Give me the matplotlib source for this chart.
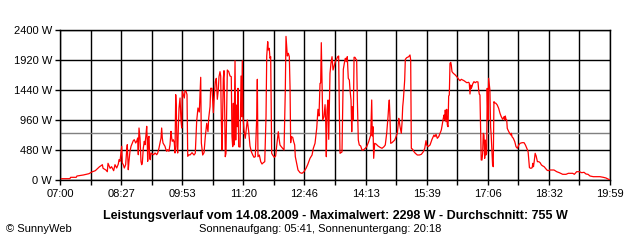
import matplotlib
matplotlib.use("Agg")
import matplotlib.pyplot as plt
from matplotlib.ticker import FixedLocator

# minutes after 07:00 and power in W
minutes = [2, 14, 15, 23, 24, 33, 41, 45, 50, 52, 56, 59, 60, 61, 65, 67, 68, 71, 73, 76,
    77.9, 80.3, 82.6, 83.6, 85, 86.4, 87.4, 88.2, 89.7, 91.1, 93, 94.5, 95.3, 96.7, 97.7, 99.1,
    100.6, 102.4, 103.8, 105.2, 107.2, 108.6, 110, 110.9, 111.9, 113.3, 114.7, 115.7, 116.6, 118,
    119.4, 120.4, 121.8, 122.8, 123.6, 124.2, 125.1, 126.1, 127, 127.9, 128.9, 130.7, 132.7, 134.6,
    137, 138.4, 140.2, 141.6, 143.1, 144, 144.9, 145.9, 147.3, 148.7, 150.1, 151.1, 152.5, 154.3,
    155.8, 157.2, 158.2, 159, 160.5, 161.9, 162.9, 163.9, 164.7, 165.7, 166.7, 167.6, 168.6, 170,
    171.4, 172.4, 173.2, 174.6, 176.1, 177, 178.5, 179.9, 180.9, 182.7,
    184.1, 187, 189.8, 191.6, 193.6, 195.4, 197.3, 199.3, 200.2, 202.1, 204, 205.8, 207.8, 209.6,
    210.6, 212.5, 213.4, 215.3, 217.2, 218.5, 220, 221.4, 222.8, 224.2, 225.2, 226.6, 227.6, 228.5,
    229.5, 230.4, 231.3, 232.3, 233.3, 234.1, 235.1, 237, 239, 240.8, 242.6, 243.6, 244.6, 245.5,
    246.4, 247.9, 248.9, 249.7, 251.1, 252.1, 253.1, 255, 256.4, 257.4, 258.2, 259.2, 260.6, 262.4,
    264.4, 265.3, 267.3, 269.1, 271, 273, 274.8, 276.6, 278.6, 279.5, 280.4, 282.3, 284.3, 286.1,
    288, 290, 291.8, 292.8, 294.2, 295, 296.4, 297.4, 298.4, 299.8, 301.2, 303.5, 305.4, 307.3,
    309.2, 310.2, 311.6, 313.4, 315.4, 317.3, 319.1, 320.1, 321.1, 322, 323.4, 324.8, 325.8, 326.7,
    327.6, 329.6, 331, 332.4, 333.3, 335.2, 337.1, 340, 342.8, 345.6, 348.5, 350.8, 354.1, 357,
    358.8, 361.2, 363.6, 365.4, 366.8, 368.3, 369.2, 370.1, 371.1, 372.1, 373.9, 375.4, 376.3, 377.2,
    378.2, 379.6, 380.6, 381.4, 382.4, 383.8, 385.3, 386.7, 388.1, 389.9, 391.9, 393.3, 394.7, 395.6,
    396.6, 399.4, 400.4, 401.3, 402.7, 404.1, 405.5, 406.9, 408.3, 409.8, 410.8, 412.2, 413.2, 414,
    415.4, 416.5, 417.8, 419.3, 420.2, 421.1, 422.5, 423.9, 425.9, 427.7, 429.6, 432.4, 434.4, 437.2,
    440.1, 441.5, 442.3, 443.3, 444.3, 445.7, 447.6, 450.4, 453.2, 456.1, 458.9, 460.7, 462.7, 464.6,
    465.5, 466.4, 467.4, 468.4, 470.2, 474.1, 476, 477.8, 479.8, 480.6, 481.6, 483.4, 484.4, 485.4,
    486.3, 488.2, 489.1, 491, 493.9, 495.7, 496.7, 497.6, 499.5, 501.4, 503.3, 506.1, 509, 511.8,
    514.6, 516.6, 518.4, 519.4, 521.2, 524.1, 526.9, 529.7, 531.1, 532.6, 534.4, 536.4, 538.2, 540.1,
    542, 542.9, 543.9, 544.9, 545.7, 546.7, 547.7, 548.6, 549.6, 550.5, 551.4, 552.4, 553.4, 554.2,
    555.2, 557.1, 559.9, 562.7, 564.7, 566.5, 568.4, 570.4, 572.2, 574.1, 576.1, 578.9, 579.7, 580.7,
    581.7, 582.5, 583.5, 584.5, 586.3, 588.2, 590.2, 592, 593, 593.8, 594.8, 595.8, 596.6, 597.7,
    598.6, 599.5, 600.5, 601.5, 602.3, 603.3, 604.3, 605.1, 606.1, 607.1, 607.9, 608.9, 609.9, 610.7,
    611.7, 612.7, 613.6, 614.6, 615.6, 617.4, 619.3, 621.3, 623.2, 625, 627, 628.9, 629.9, 630.7,
    631.7, 632.7, 633.5, 634.5, 636.4, 638.4, 639.3, 640.2, 642.1, 644.1, 645.9, 647.8, 649.8, 651.6,
    654.5, 657.3, 659.2, 661.2, 663, 664, 664.9, 666.9, 668.8, 669.7, 670.6, 671.6, 673, 674.4,
    676.2, 678.2, 680, 681.9, 683.9, 685.7, 687.6, 689.6, 691.4, 694, 699.7, 703.5, 707.2, 712,
    716.7, 720, 726.2, 728.5, 731.8, 735.5, 738.9, 742.2, 745, 747.8, 750.7, 755.4, 764.8, 769.5,
    773.3, 777.1, 779]

watts = [21, 21, 43, 43, 64, 80, 101, 128, 149, 171, 213, 235, 245, 187, 160, 133, 267, 187, 213, 149,
    245, 192, 256, 325, 299, 432, 539, 272, 245, 192, 245, 485, 565, 165, 299, 459,
    539, 592, 629, 645, 592, 619, 672, 405, 832, 672, 299, 245, 272, 512,
    619, 565, 725, 859, 619, 299, 672, 699, 352, 325, 432, 416, 405, 432,
    405, 432, 512, 592, 672, 832, 672, 592, 565, 539, 485, 459, 485, 459,
    565, 779, 672, 619, 645, 592, 432, 1365, 1152, 539, 432, 832, 1152, 1312,
    939, 832, 1419, 1365, 1312, 1429, 1419, 1365, 379, 405,
    400, 437, 400, 427, 944, 1152, 1088, 1643, 592, 400, 437, 693, 907, 773,
    987, 1173, 1467, 1467, 1077, 1333, 1573, 1627, 1291, 1440, 1653, 1733, 1664, 960,
    480, 1067, 1621, 1749, 1067, 373, 427, 1760, 1733, 1664, 1653, 693, 533, 1227,
    560, 1909, 640, 1200, 853, 1467, 533, 528, 1664, 1013, 1909, 1013, 800, 667,
    880, 960, 773, 544, 453, 400, 363, 373, 987, 1611, 373, 400, 293, 256,
    277, 293, 1013, 1984, 2213, 2080, 2107, 1947, 1973, 427, 400, 363, 384, 587,
    773, 667, 560, 533, 507, 480, 1429, 2298, 2133, 1984, 2027, 1973, 1493, 597,
    693, 683, 613, 560, 373, 267, 160, 117, 107, 133, 187, 245, 347, 400,
    507, 587, 827, 1131, 1024, 1547, 1552, 2197, 1557, 960, 1013, 1205, 960, 373,
    1120, 1280, 651, 1152, 1707, 1867, 1973, 1760, 1813, 1893, 1936, 1973, 1984, 1147,
    427, 448, 1120, 1771, 1867, 1947, 1893, 1973, 1627, 1600, 1440, 1280, 773, 1173,
    960, 1963, 1963, 1931, 1920, 1307, 640, 560, 544, 480, 480, 507, 533, 613,
    720, 1280, 704, 853, 347, 587, 576, 544, 523, 507, 533, 560, 747, 1013,
    1173, 1280, 987, 587, 597, 640, 693, 747, 987, 933, 853, 747, 907, 1173,
    1280, 1600, 1931, 1957, 1973, 2000, 1920, 507, 491, 453, 427, 400, 400, 411,
    453, 507, 629, 560, 533, 560, 651, 720, 693, 731, 667, 693, 747, 800,
    933, 987, 1040, 960, 1120, 933, 1131, 880, 853, 1344, 1360, 1867, 1883, 1840,
    1733, 1707, 1680, 1643, 1611, 1589, 1611, 1600, 1589, 1573, 1557, 1563, 1547, 1376,
    1520, 1467, 1493, 1536, 1573, 1557, 1573, 1568, 1440, 1376, 1360, 827, 320, 320,
    427, 747, 720, 347, 640, 400, 427, 1467, 960, 1627, 1547, 1440, 853, 720,
    480, 240, 213, 1253, 1237, 1227, 1200, 1147, 1067, 1013, 971, 1013, 960, 1024,
    971, 960, 827, 800, 757, 720, 747, 693, 667, 613, 533, 507, 560, 587,
    597, 597, 560, 507, 453, 320, 197, 187, 197, 267, 213, 293, 427, 384,
    293, 293, 277, 240, 224, 213, 187, 160, 149, 160, 160, 133, 117, 91,
    91, 107, 107, 91, 133, 133, 117, 123, 96, 91, 64, 53, 53, 43,
    32, 11, 0]

average_w = 755
y_ticks = [0, 480, 960, 1440, 1920, 2400]
x_tick_labels = ["07:00", "08:27", "09:53", "11:20", "12:46", "14:13", "15:39", "17:06", "18:32", "19:59"]
total_minutes = 779
title = "Leistungsverlauf vom 14.08.2009 - Maximalwert: 2298 W - Durchschnitt: 755 W"
subtitle = "Sonnenaufgang: 05:41, Sonnenuntergang: 20:18"
credit = "\u00a9 SunnyWeb"

plt.rcParams['font.family'] = ['Liberation Sans', 'DejaVu Sans']

fig = plt.figure(figsize=(6.4, 2.4), dpi=100)
fig.patch.set_facecolor("white")
ax = fig.add_axes([60/640, 60/240, 550/640, 150/240])

ax.set_xlim(0, total_minutes)
ax.set_ylim(0, 2400)

px = 0.72
major_x = [total_minutes * i / 9 for i in range(10)]
minor_x = [total_minutes * i / 18 for i in range(1, 18, 2)]
ax.xaxis.set_major_locator(FixedLocator(major_x))
ax.xaxis.set_minor_locator(FixedLocator(minor_x))
ax.set_xticklabels(x_tick_labels)
ax.set_yticks(y_ticks)
ax.set_yticklabels([f"{v} W" for v in y_ticks])

ax.grid(True, which="both", color="black", linewidth=1.4*px, zorder=1)
for s in ax.spines.values():
    s.set_color("black")
    s.set_linewidth(1.4*px)
ax.tick_params(axis="both", which="both", direction="out", length=5*px, width=1.4*px,
               color="black", labelsize=8, pad=2)
ax.tick_params(axis="x", which="both", pad=3)

ax.axhline(average_w, color="#808080", linewidth=1.4*px, zorder=2)
ax.plot(minutes, watts, color="#ff0000", linewidth=0.9, zorder=3)

fig.text(335/640, 1 - 216/240, title, ha="center", va="center", fontsize=9, fontweight="bold")
fig.text(320/640, 1 - 229/240, subtitle, ha="center", va="center", fontsize=8)
fig.text(6/640, 1 - 229/240, credit, ha="left", va="center", fontsize=8)

fig.savefig("out.png", dpi=100, facecolor="white")
